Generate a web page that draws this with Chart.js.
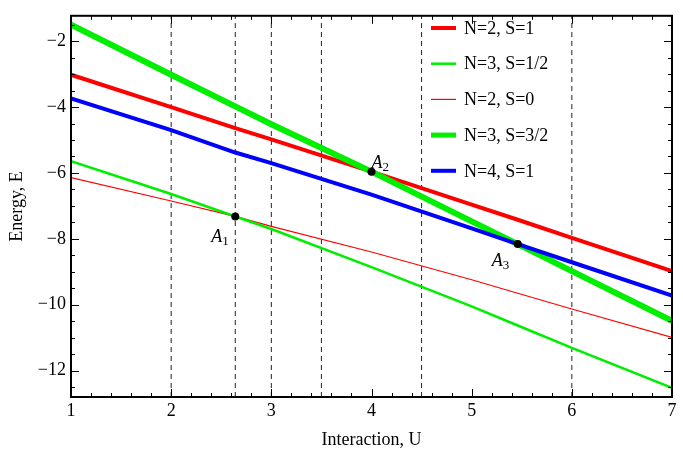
<!DOCTYPE html>
<html>
<head>
<meta charset="utf-8">
<script src="https://cdn.jsdelivr.net/npm/chart.js@4.4.1/dist/chart.umd.min.js"></script>
<style>
  html, body { margin: 0; padding: 0; background: #fff; }
  #wrap { width: 683px; height: 459px; }
</style>
</head>
<body>
<div id="wrap"><canvas id="grafiek"></canvas></div>
<script>
// Interaction U (x) and energy E per curve
const uWaarden = [1, 2, 2.64, 3, 4, 5, 5.46, 6, 7];
const eN2S1   = [-3.02, -4.00, -4.64, -4.98, -5.96, -6.96, -7.42, -7.97, -8.98];
const eN3S12  = [-5.64, -6.64, -7.32, -7.70, -8.86, -10.05, -10.63, -11.31, -12.52];
const eN2S0   = [-6.14, -6.85, -7.32, -7.62, -8.40, -9.24, -9.65, -10.13, -10.99];
const eN3S32  = [-1.50, -3.02, -3.98, -4.52, -5.96, -7.47, -8.16, -8.98, -10.49];
const eN4S1   = [-3.74, -4.70, -5.38, -5.70, -6.66, -7.68, -8.16, -8.71, -9.72];

// crossing points A1, A2, A3
const puntU = [2.64, 4, 5.46];
const puntE = [-7.32, -5.96, -8.16];
const puntNamen = ['1', '2', '3'];

// vertical dashed guide lines
const stippelU = [2, 2.64, 3, 3.5, 4.5, 6];

const xTicks = [1, 2, 3, 4, 5, 6, 7];
const yTicks = [-12, -10, -8, -6, -4, -2];
const xMin = 1, xMax = 7, yMin = -12.8, yMax = -1.23;

const serif = "'Liberation Serif', 'DejaVu Serif', serif";

function reeks(ys) {
    return uWaarden.map((u, i) => ({ x: u, y: ys[i] }));
}

const datasets = [
    { label: 'N=2, S=1',   data: reeks(eN2S1),  borderColor: '#ff0000', borderWidth: 4,   order: 5, legenda: true },
    { label: 'N=3, S=1/2', data: reeks(eN3S12), borderColor: '#00ee00', borderWidth: 2.5, order: 2, legenda: true },
    { label: 'N=2, S=0',   data: reeks(eN2S0),  borderColor: '#ff0000', borderWidth: 1.2, order: 3, legenda: true },
    { label: 'N=3, S=3/2', data: reeks(eN3S32), borderColor: '#00ee00', borderWidth: 6,   order: 4, legenda: true },
    { label: 'N=4, S=1',   data: reeks(eN4S1),  borderColor: '#0000ff', borderWidth: 4,   order: 1, legenda: true }
];
datasets.forEach(d => { d.showLine = true; d.pointRadius = 0; d.fill = false; });

stippelU.forEach(u => {
    datasets.push({
        label: 'stippel',
        data: [{ x: u, y: yMin }, { x: u, y: yMax }],
        showLine: true, pointRadius: 0,
        borderColor: '#222', borderWidth: 1, borderDash: [5, 4],
        order: 10
    });
});

datasets.push({
    label: 'punten',
    data: puntU.map((u, i) => ({ x: u, y: puntE[i] })),
    showLine: false,
    pointRadius: 4, pointBackgroundColor: '#000', pointBorderColor: '#000', pointBorderWidth: 0,
    order: 0
});

// frame with inward ticks (major + minor) on all four sides
const kaderPlugin = {
    id: 'kader',
    afterDatasetsDraw(chart) {
        const { ctx, chartArea: a, scales: { x, y } } = chart;
        ctx.save();
        ctx.strokeStyle = '#000';
        ctx.lineWidth = 1;
        ctx.beginPath();
        for (let v = xMin; v <= xMax + 1e-9; v += 0.2) {
            const px = Math.round(x.getPixelForValue(v)) + 0.5;
            const major = Math.abs(v - Math.round(v)) < 1e-6;
            const len = major ? 8 : 4;
            ctx.moveTo(px, a.bottom); ctx.lineTo(px, a.bottom - len);
            ctx.moveTo(px, a.top); ctx.lineTo(px, a.top + len);
        }
        for (let v = -12.5; v <= yMax; v += 0.5) {
            const py = Math.round(y.getPixelForValue(v)) + 0.5;
            const major = Math.abs(v / 2 - Math.round(v / 2)) < 1e-6;
            const len = major ? 8 : 4;
            ctx.moveTo(a.left, py); ctx.lineTo(a.left + len, py);
            ctx.moveTo(a.right, py); ctx.lineTo(a.right - len, py);
        }
        ctx.stroke();
        ctx.lineWidth = 2;
        ctx.strokeRect(a.left, a.top, a.right - a.left, a.bottom - a.top);
        ctx.restore();
    },
    afterDraw(chart) {
        const { ctx, scales: { x, y } } = chart;
        ctx.save();
        ctx.fillStyle = '#000';
        // labels A1, A2, A3
        const offsets = [[-24, 26], [0, -4], [-26, 22]];
        puntU.forEach((u, i) => {
            const px = x.getPixelForValue(u) + offsets[i][0];
            const py = y.getPixelForValue(puntE[i]) + offsets[i][1];
            ctx.textBaseline = 'alphabetic';
            ctx.textAlign = 'left';
            ctx.font = 'italic 18px ' + serif;
            ctx.fillText('A', px, py);
            const w = ctx.measureText('A').width;
            ctx.font = '13px ' + serif;
            ctx.fillText(puntNamen[i], px + w, py + 3);
        });
        // legend
        const rijen = chart.data.datasets.filter(d => d.legenda);
        ctx.textBaseline = 'middle';
        ctx.font = '18px ' + serif;
        rijen.forEach((d, i) => {
            const ry = 28 + i * 35.7;
            ctx.strokeStyle = d.borderColor;
            ctx.lineWidth = Math.min(d.borderWidth, 5);
            ctx.beginPath();
            ctx.moveTo(431, ry); ctx.lineTo(456, ry);
            ctx.stroke();
            ctx.fillText(d.label, 464, ry + 1);
        });
        ctx.restore();
    }
};

new Chart(document.getElementById('grafiek'), {
    type: 'scatter',
    data: { datasets },
    options: {
        responsive: true,
        maintainAspectRatio: false,
        animation: false,
        layout: { padding: { top: 6, right: 11, left: 0, bottom: 0 } },
        plugins: { legend: { display: false }, tooltip: { enabled: false } },
        scales: {
            x: {
                type: 'linear', min: xMin, max: xMax,
                afterBuildTicks: s => { s.ticks = xTicks.map(v => ({ value: v })); },
                afterFit: s => { s.height = 62; },
                grid: { display: false, drawTicks: false },
                border: { display: false },
                ticks: { color: '#000', font: { family: serif, size: 18 }, padding: 3, maxRotation: 0, autoSkip: false },
                title: { display: true, text: 'Interaction, U', color: '#000', font: { family: serif, size: 18 }, padding: { top: 0, bottom: 8 } }
            },
            y: {
                type: 'linear', min: yMin, max: yMax,
                afterBuildTicks: s => { s.ticks = yTicks.map(v => ({ value: v })); },
                afterFit: s => { s.width = 71; },
                grid: { display: false, drawTicks: false },
                border: { display: false },
                ticks: {
                    color: '#000', font: { family: serif, size: 18 }, padding: 5, autoSkip: false,
                    callback: v => (v < 0 ? '\u2212' : '') + Math.abs(v)
                },
                title: { display: true, text: 'Energy, E', color: '#000', font: { family: serif, size: 18 }, padding: { top: 6, bottom: 0 } }
            }
        }
    },
    plugins: [kaderPlugin]
});
</script>
</body>
</html>
